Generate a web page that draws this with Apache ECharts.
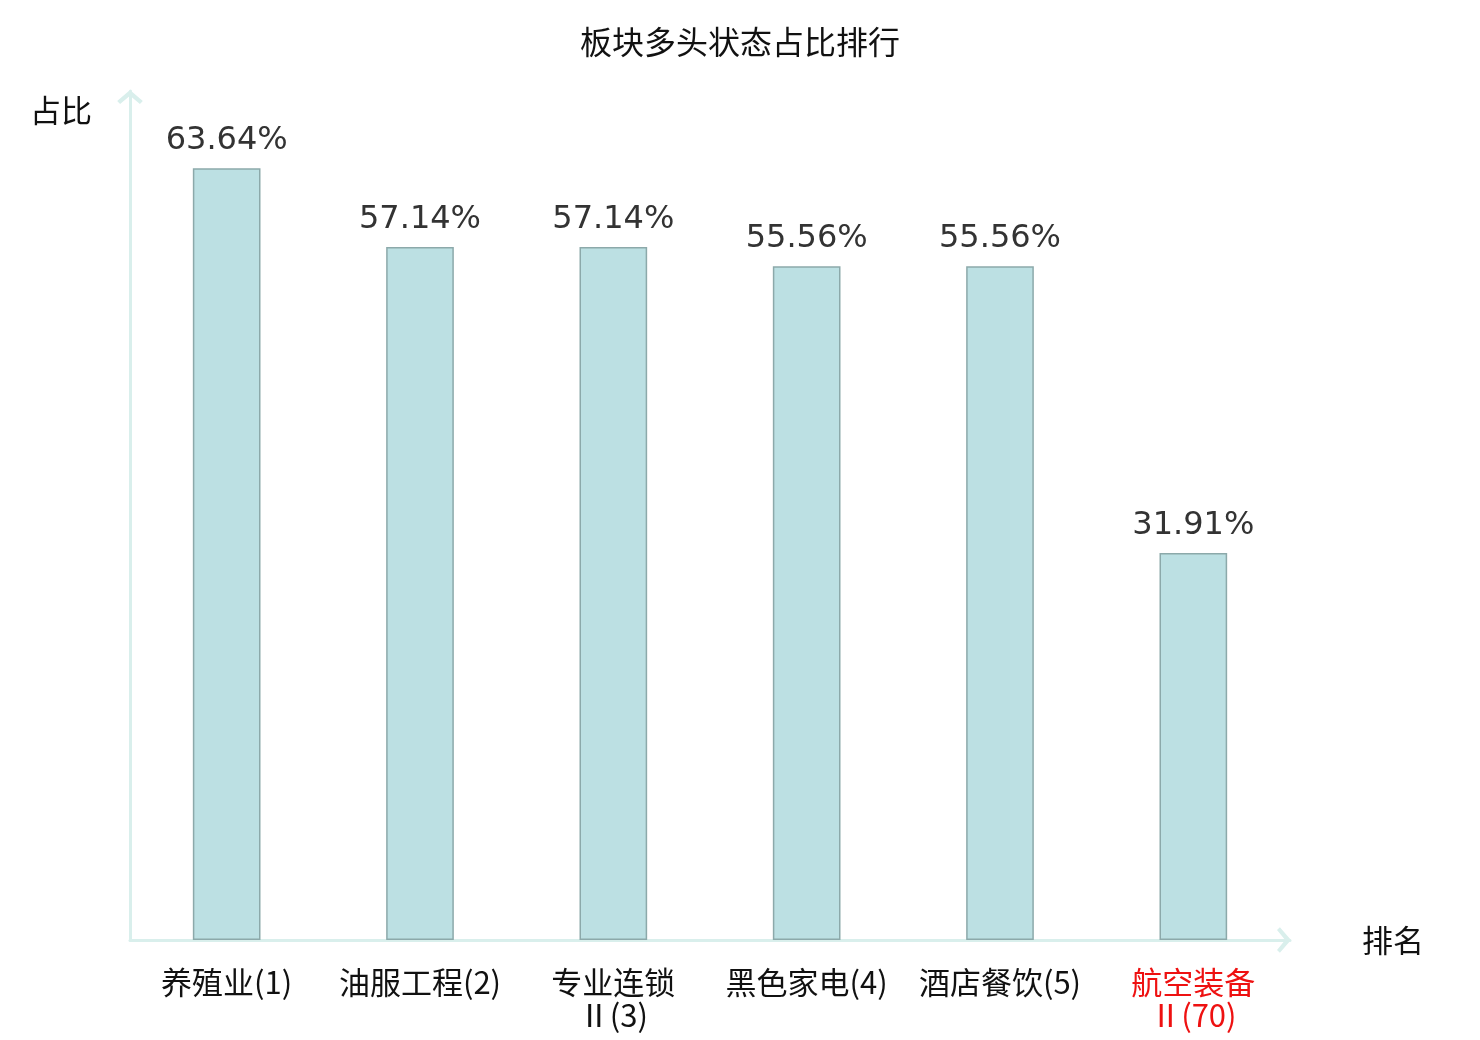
<!DOCTYPE html>
<html>
<head>
<meta charset="utf-8">
<script src="https://cdn.jsdelivr.net/npm/echarts@6/dist/echarts.min.js"></script>
<style>
  html, body { margin: 0; padding: 0; background: #fff; }
  #chart { width: 1480px; height: 1040px; }
</style>
</head>
<body>
<div id="chart"></div>
<script>
// 板块多头状态占比排行
const categories = ['养殖业(1)', '油服工程(2)', '专业连锁\nⅡ(3)', '黑色家电(4)', '酒店餐饮(5)', '航空装备\nⅡ(70)'];
const ratios = [63.64, 57.14, 57.14, 55.56, 55.56, 31.91];
const highlightIndex = 5; // 当前板块，标红

const CJK = '"Noto Sans CJK SC", sans-serif';
const axisColor = '#d9efec';
// open chevron, pointing up
const chevron = 'path://M0,9.5 L11,0 L22,9.5 L19.5,12 L11,5 L2.5,12 Z';

const chart = echarts.init(document.getElementById('chart'));

const option = {
  animation: false,
  title: {
    text: '板块多头状态占比排行',
    left: 'center',
    top: 21,
    textStyle: { fontFamily: CJK, fontSize: 32, fontWeight: 'normal', color: '#111' }
  },
  grid: { left: 130, right: 190, top: 91, bottom: 100 },
  xAxis: {
    type: 'category',
    data: categories,
    name: '排名',
    nameLocation: 'end',
    nameGap: 72,
    nameTextStyle: { fontFamily: CJK, fontSize: 31, color: '#111', verticalAlign: 'middle' },
    axisLine: {
      lineStyle: { color: axisColor, width: 3 },
      symbol: ['none', chevron],
      symbolSize: [26, 14],
      symbolOffset: [0, -6]
    },
    axisTick: { show: false },
    axisLabel: {
      interval: 0,
      margin: 26,
      fontFamily: CJK,
      fontSize: 31,
      lineHeight: 33,
      color: (v, i) => (i === highlightIndex ? '#ee1111' : '#111')
    }
  },
  yAxis: {
    type: 'value',
    min: 0,
    max: 70,
    name: '占比',
    nameLocation: 'end',
    nameGap: -19,
    nameTextStyle: {
      fontFamily: CJK, fontSize: 31, color: '#111',
      align: 'right', verticalAlign: 'middle', padding: [0, 38, 0, 0]
    },
    axisLine: {
      show: true,
      lineStyle: { color: axisColor, width: 3 },
      symbol: ['none', chevron],
      symbolSize: [26, 14],
      symbolOffset: [0, -6]
    },
    axisTick: { show: false },
    axisLabel: { show: false },
    splitLine: { show: false }
  },
  series: [{
    type: 'bar',
    data: ratios,
    barWidth: '35%',
    itemStyle: { color: '#bce0e3', borderColor: '#8ca9aa', borderWidth: 1.5 },
    label: {
      show: true,
      position: 'top',
      distance: 11,
      fontFamily: '"DejaVu Sans", sans-serif',
      fontSize: 32,
      color: '#333',
      formatter: p => p.value.toFixed(2) + '%'
    }
  }]
};

chart.setOption(option);
</script>
</body>
</html>
